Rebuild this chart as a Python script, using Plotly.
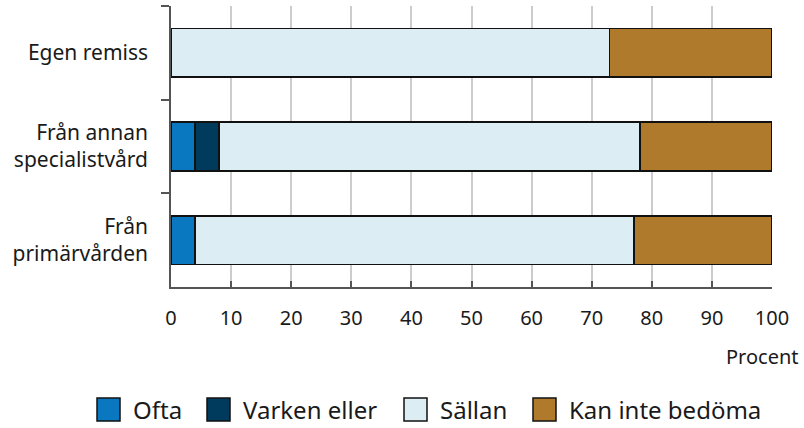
import plotly.graph_objects as go

# data
kategorier = ["Egen remiss", "Från annan<br>specialistvård", "Från<br>primärvården"]
serienamn = ["Ofta", "Varken eller", "Sällan", "Kan inte bedöma"]
ofta = [0, 4, 4]
varken = [0, 4, 0]
sallan = [73, 70, 73]
kan_inte = [27, 22, 23]
xticks = [0, 10, 20, 30, 40, 50, 60, 70, 80, 90, 100]

farger = ["#0a78c0", "#003a5d", "#dcedf4", "#b07a2c"]
varden = [ofta, varken, sallan, kan_inte]

# plot area in pixels (used to place the legend outside the plot)
L, R, T, B = 171, 772, 6, 287.3


def px(x):
    return (x - L) / (R - L)


def py(y):
    return (B - y) / (B - T)


fig = go.Figure()
for namn, v, farg in zip(serienamn, varden, farger):
    fig.add_trace(go.Bar(
        y=kategorier, x=v, name=namn, orientation="h",
        marker=dict(color=farg, line=dict(color="#111111", width=1.5)),
        width=0.52, showlegend=False,
    ))

# hand made legend with larger squares
leg_x = [97, 207, 404, 533]
shapes = []
annots = []
for namn, farg, x0 in zip(serienamn, farger, leg_x):
    shapes.append(dict(type="rect", xref="paper", yref="paper",
                       x0=px(x0), x1=px(x0 + 23), y0=py(421.5), y1=py(398.5),
                       fillcolor=farg, line=dict(color="#111111", width=1.5)))
    annots.append(dict(text=namn, xref="paper", yref="paper", x=px(x0 + 34), y=py(410),
                       xanchor="left", yanchor="middle", showarrow=False,
                       font=dict(size=24)))

annots.append(dict(text="Procent", xref="paper", yref="paper", x=px(801), y=py(357),
                   xanchor="right", yanchor="middle", showarrow=False,
                   font=dict(size=20)))

fig.update_layout(
    barmode="stack",
    width=804, height=428,
    margin=dict(l=L, r=804 - R, t=T, b=428 - B),
    plot_bgcolor="white", paper_bgcolor="white",
    font=dict(family="Noto Sans", size=20, color="#1a1a1a"),
    showlegend=False,
    xaxis=dict(range=[0, 100], tickvals=xticks, showgrid=True,
               gridcolor="#cccccc", gridwidth=1.5, zeroline=False,
               showline=True, linecolor="#555555", linewidth=1.5,
               ticks="inside", ticklen=6, tickcolor="#555555", tickwidth=1.5,
               ticklabelstandoff=12, automargin=False),
    yaxis=dict(categoryorder="array", categoryarray=kategorier, autorange="reversed",
               showline=True, linecolor="#555555", linewidth=1.5,
               ticks="outside", ticklen=8, tickcolor="#555555", tickwidth=1.5,
               tickson="boundaries", ticklabelstandoff=17, automargin=False,
               tickfont=dict(size=21)),
    shapes=shapes,
    annotations=annots,
)

# page body has an 8px margin by default, drop it so the figure fills the window
fig.write_html("out.html", config={"displayModeBar": False},
               post_script="document.body.style.margin='0';")
